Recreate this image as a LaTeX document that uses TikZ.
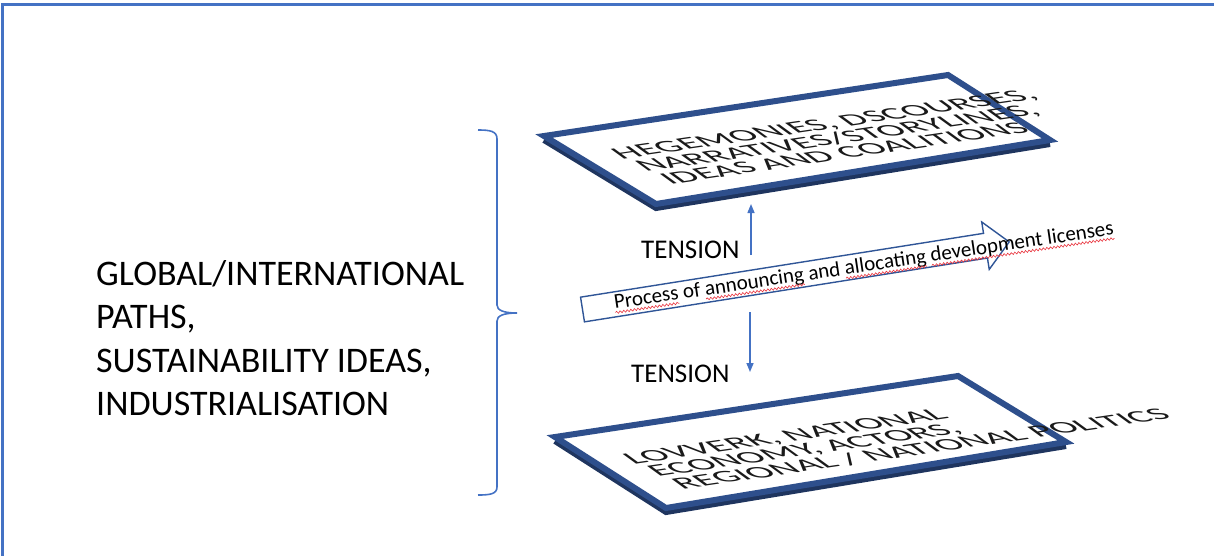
\documentclass[tikz,border=0pt]{standalone}
\usepackage{fontspec}
\setmainfont{Carlito}
\usetikzlibrary{arrows.meta,calc,decorations.pathmorphing}

\definecolor{frameblue}{HTML}{4472C4}
\definecolor{slabblue}{HTML}{2E4F8C}
\definecolor{slabdark}{HTML}{1F355F}
\definecolor{procblue}{HTML}{2F5597}
\definecolor{wavered}{HTML}{E8323C}
\definecolor{inktext}{HTML}{1A1A1A}

\newcommand\procfont{\fontsize{21}{25}\selectfont}
\newlength\waveA
\newlength\waveB
\newlength\waveC
\newlength\waveD
\newlength\waveE
\newlength\waveF
\newlength\waveG

\tikzset{
  slab/.style={draw=slabblue, line width=6pt, line join=miter, fill=white},
  slabside/.style={draw=slabdark, line width=6pt, line join=miter},
  planetext/.style={anchor=base west, inner sep=0pt, align=left, transform shape,
    text=inktext, cm={0.9895,0.1444,-0.55,0.40,(0,0)},
    font=\fontsize{38}{33.5}\selectfont},
  tensionlabel/.style={anchor=base west, inner sep=0pt, font=\fontsize{27}{32}\selectfont},
  tensarrow/.style={draw=frameblue, line width=1.5pt, -{Triangle[length=9pt,width=7pt]}},
  bracestyle/.style={draw=frameblue, line width=1.6pt},
  procarrow/.style={draw=procblue, line width=1.4pt, fill=white, line join=miter},
  spellwave/.style={draw=wavered, line width=0.6pt,
    decorate, decoration={snake, segment length=3.6pt, amplitude=1.1pt}}
}

\begin{document}
% word extents for the wavy marks under the process label
\settowidth\waveA{\procfont Process}
\settowidth\waveB{\procfont Process of }
\settowidth\waveC{\procfont Process of announcing}
\settowidth\waveD{\procfont Process of announcing and }
\settowidth\waveE{\procfont Process of announcing and allocating}
\settowidth\waveF{\procfont Process of announcing and allocating }
\settowidth\waveG{\procfont Process of announcing and allocating development licenses}
\begin{tikzpicture}[x=1pt,y=-1pt]
\useasboundingbox (0,0) rectangle (1214,555);

% outer frame (top and left edges)
\draw[frameblue, line width=2.8pt] (2.5,560) -- (2.5,4.5) -- (1220,4.5);

% left label (anchored at the baseline of its last line)
\node[anchor=base west, inner sep=0pt, align=left, font=\fontsize{36}{43.5}\selectfont]
  (paths) at (96,415.5) {GLOBAL/INTERNATIONAL\\PATHS,\\SUSTAINABILITY IDEAS,\\INDUSTRIALISATION};

% curly brace
\coordinate (bt) at (478,130);
\coordinate (bm) at (517,313);
\coordinate (bb) at (478,495);
\draw[bracestyle] (bt) .. controls (490,130) and (497,131) .. (497,139) -- (497,305)
  .. controls (497,310) and (503,313) .. (bm)
  .. controls (503,313) and (497,316) .. (497,321) -- (497,487)
  .. controls (497,494) and (490,495) .. (bb);

% upper plane
\coordinate (ua) at (544,136);
\coordinate (ub) at (948,75);
\coordinate (uc) at (1050,140);
\coordinate (ud) at (656,204);
\draw[slabside] ($(ua)+(0,4)$) -- ($(ud)+(0,4)$) -- ($(uc)+(0,4)$);
\draw[slab] (ua) -- (ub) -- (uc) -- (ud) -- cycle;

% lower plane
\coordinate (la) at (555,437);
\coordinate (lb) at (958,376);
\coordinate (lc) at (1066,442);
\coordinate (ld) at (666,508);
\draw[slabside] ($(la)+(0,4)$) -- ($(ld)+(0,4)$) -- ($(lc)+(0,4)$);
\draw[slab] (la) -- (lb) -- (lc) -- (ld) -- cycle;

% tension arrows
\coordinate (upfoot) at (751,255);
\coordinate (uptip) at (751,204);
\coordinate (downfoot) at (750,312);
\coordinate (downtip) at (750,372);
\draw[tensarrow] (upfoot) -- (uptip);
\draw[tensarrow] (downfoot) -- (downtip);
\node[tensionlabel] (tenup) at (641,258) {TENSION};
\node[tensionlabel] (tendown) at (631,382) {TENSION};

% process block arrow
\begin{scope}[shift={(582.5,309.5)}, rotate=9]
  \draw[procarrow] (0,-12.5) -- (408,-12.5) -- (408,-24) -- (432,0) -- (408,24)
    -- (408,12.5) -- (0,12.5) -- cycle;
\end{scope}
\node[anchor=base west, inner sep=0pt, rotate=8.46, font=\procfont]
  (proc) at (615,309)
  {Process of announcing and allocating development licenses};
\begin{scope}[shift={(proc.base west)}, rotate=8.46]
  \draw[spellwave] (0pt,-3.6pt) -- (\waveA,-3.6pt);
  \draw[spellwave] (\waveB,-3.6pt) -- (\waveC,-3.6pt);
  \draw[spellwave] (\waveD,-3.6pt) -- (\waveE,-3.6pt);
  \draw[spellwave] (\waveF,-3.6pt) -- (\waveG,-3.6pt);
\end{scope}

% plane texts (anchored at the baseline of their last line, lines stepped inward)
\node[planetext] (upper) at (658.2,186.2)
  {HEGEMONIES, DSCOURSES,\\\hspace*{6pt}NARRATIVES/STORYLINES,\\\hspace*{12pt}IDEAS AND COALITIONS};
\node[planetext] (lower) at (670.2,491.2)
  {LOVVERK, NATIONAL\\\hspace*{6pt}ECONOMY, ACTORS,\\\hspace*{12pt}REGIONAL / NATIONAL POLITICS};
\end{tikzpicture}
\end{document}
